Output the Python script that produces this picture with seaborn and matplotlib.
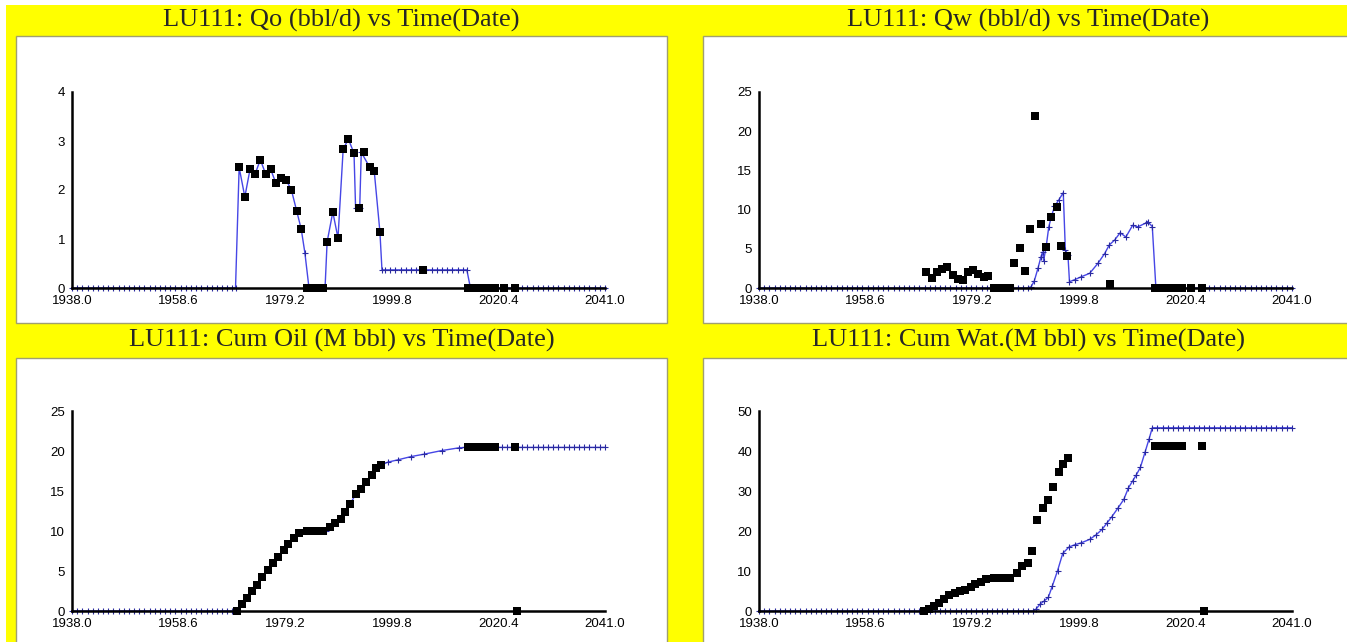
import matplotlib
matplotlib.use("Agg")
import matplotlib.pyplot as plt
from matplotlib.patches import Rectangle
import seaborn as sns

# ---- observed data (black squares) ----
# dates shared by the two rate plots
rate_dates = [1970.3, 1971.4, 1972.4, 1973.4, 1974.4, 1975.4, 1976.4, 1977.4,
              1978.4, 1979.4, 1980.4, 1981.4, 1982.3]
rate_dates_2 = [1987.3, 1988.4, 1989.4, 1990.4, 1991.4, 1992.5, 1993.4,
                1994.4, 1995.5, 1996.4, 1997.5, 2005.9]
# dates for the cumulative plots
cum_dates = [1969.8, 1970.8, 1971.8, 1972.8, 1973.8, 1974.8, 1975.8, 1976.8,
             1977.8, 1978.9, 1979.8, 1980.9, 1981.9]
cum_dates_2 = [1987.9, 1988.8, 1989.9, 1990.8, 1991.8, 1992.8, 1993.8,
               1994.8, 1995.9, 1996.8, 1997.8]
# shut-in periods (many readings close together -> black bars)
shut_in_a = [1983.4, 1983.8, 1984.2, 1984.6, 1985.0, 1985.4, 1985.8, 1986.2, 1986.6]
shut_in_b = [2014.6, 2015.0, 2015.4, 2015.8, 2016.2, 2016.6, 2017.0, 2017.4,
             2017.8, 2018.2, 2018.6, 2019.0, 2019.4, 2019.8]
late_dates = [2021.4, 2023.6]

qo_obs_1 = [2.46, 1.86, 2.42, 2.33, 2.62, 2.33, 2.42, 2.14, 2.25, 2.20, 2.00, 1.58, 1.20]
qo_obs_2 = [0.94, 1.55, 1.02, 2.83, 3.04, 2.75, 1.64, 2.77, 2.47, 2.39, 1.15, 0.37]

qw_obs_1 = [2.00, 1.27, 2.03, 2.42, 2.63, 1.61, 1.19, 1.06, 2.03, 2.25, 1.78, 1.36, 1.57]
qw_obs_2 = [3.18, 5.08, 2.12, 7.54, 21.95, 8.22, 5.21, 9.11, 10.38, 5.42, 4.07, 0.55]

coil_obs_1 = [0.0, 0.93, 1.60, 2.45, 3.29, 4.22, 5.07, 6.00, 6.76, 7.60, 8.36, 9.08, 9.71]
coil_obs_2 = [10.56, 11.06, 11.49, 12.33, 13.43, 14.57, 15.20, 16.10, 16.98, 17.86, 18.24]
coil_shut_a = 10.05
coil_shut_b = 20.45

cwat_obs_1 = [0.0, 0.50, 1.27, 2.10, 2.96, 3.97, 4.39, 4.90, 5.32, 6.08, 6.76, 7.35, 8.02]
cwat_obs_2 = [9.46, 11.23, 12.00, 14.95, 22.80, 25.76, 27.70, 31.08, 34.80, 36.74, 38.26]
cwat_shut_a = 8.28
cwat_shut_b = 41.2

# ---- simulated data (blue line with + markers) ----
qo_sim_t = [1969.6, 1970.3, 1971.4, 1972.4, 1973.4, 1974.4, 1975.4, 1976.4, 1977.4,
            1978.4, 1979.4, 1980.4, 1981.4, 1982.3, 1983.0, 1983.8, 1984.5, 1985.2,
            1986.0, 1986.9, 1987.3, 1988.4, 1989.4, 1990.4, 1991.4, 1992.5, 1992.8,
            1993.6, 1993.9, 1995.5, 1996.4, 1997.5, 1997.9, 1998.5, 1999.5, 2000.5,
            2001.5, 2002.5, 2003.5, 2004.5, 2005.5, 2006.5, 2007.5, 2008.5, 2009.5,
            2010.5, 2011.5, 2012.5, 2013.5, 2014.3, 2015.0]
qo_sim_v = [0.0, 2.46, 1.86, 2.42, 2.33, 2.62, 2.33, 2.42, 2.14,
            2.25, 2.20, 2.00, 1.58, 1.20, 0.72, 0.0, 0.0, 0.0,
            0.0, 0.0, 0.94, 1.55, 1.02, 2.83, 3.04, 2.75, 1.64,
            1.64, 2.77, 2.47, 2.39, 1.15, 0.37, 0.37, 0.37, 0.37,
            0.37, 0.37, 0.37, 0.37, 0.37, 0.37, 0.37, 0.37, 0.37,
            0.37, 0.37, 0.37, 0.37, 0.37, 0.0]

qw_sim_t = [1990.6, 1991.2, 1991.9, 1992.5, 1992.8, 1993.0, 1993.5, 1994.0, 1994.5,
            1995.1, 1995.9, 1996.8, 1997.2, 1997.7, 1998.0, 1999.0, 2000.3, 2001.9,
            2003.5, 2004.8, 2005.7, 2006.7, 2007.8, 2008.9, 2010.2, 2011.2, 2012.8,
            2013.1, 2014.0, 2014.7]
qw_sim_v = [0.17, 0.9, 2.5, 4.0, 4.6, 3.5, 5.3, 7.8, 9.1,
            10.4, 11.2, 12.16, 4.85, 4.2, 0.8, 1.06, 1.44, 1.87,
            3.15, 4.4, 5.5, 6.1, 7.05, 6.5, 8.0, 7.8, 8.3,
            8.47, 7.84, 0.0]

coil_sim_t = [1999.0, 2001.0, 2003.5, 2006.0, 2009.5, 2012.8, 2014.0]
coil_sim_v = [18.6, 18.9, 19.3, 19.6, 20.06, 20.4, 20.45]

cwat_sim_t = [1990.9, 1991.5, 1992.3, 1993.1, 1993.9, 1994.7, 1995.7, 1996.7, 1997.9,
              1999.1, 2000.3, 2001.9, 2003.1, 2004.3, 2005.3, 2006.2, 2007.4, 2008.5,
              2009.4, 2010.2, 2010.9, 2011.7, 2012.6, 2013.4, 2014.0]
cwat_sim_v = [0.0, 0.42, 1.7, 2.5, 3.4, 6.3, 10.1, 14.4, 16.0,
              16.6, 17.06, 17.9, 19.0, 20.4, 22.1, 23.6, 25.8, 27.9,
              30.8, 32.5, 34.0, 35.9, 39.7, 43.1, 45.8]

x_ticks = [1938.0, 1958.6, 1979.2, 1999.8, 2020.4, 2041.0]
titles = ["LU111: Qo (bbl/d) vs Time(Date)", "LU111: Qw (bbl/d) vs Time(Date)",
          "LU111: Cum Oil (M bbl) vs Time(Date)", "LU111: Cum Wat.(M bbl) vs Time(Date)"]

# yearly grids for the flat parts of the simulated curves
years_a = list(range(1938, 1970))
years_b = list(range(1938, 1991))
years_tail = list(range(2016, 2042))
years_tail_c = list(range(2015, 2042))

# assemble series
qo_obs_t = rate_dates + shut_in_a + rate_dates_2 + shut_in_b + late_dates
qo_obs_v = qo_obs_1 + [0.0] * len(shut_in_a) + qo_obs_2 + [0.0] * len(shut_in_b) + [0.0, 0.0]
qw_obs_t = qo_obs_t
qw_obs_v = qw_obs_1 + [0.0] * len(shut_in_a) + qw_obs_2 + [0.0] * len(shut_in_b) + [0.0, 0.0]

qo_t = years_a + qo_sim_t + years_tail
qo_v = [0.0] * len(years_a) + qo_sim_v + [0.0] * len(years_tail)
qw_t = years_b + qw_sim_t + years_tail
qw_v = [0.0] * len(years_b) + qw_sim_v + [0.0] * len(years_tail)

cum_obs_t = cum_dates + shut_in_a + cum_dates_2 + shut_in_b + [2023.6, 2024.0]
coil_obs_v = (coil_obs_1 + [coil_shut_a] * len(shut_in_a) + coil_obs_2
              + [coil_shut_b] * len(shut_in_b) + [coil_shut_b, 0.0])
cwat_obs_v = (cwat_obs_1 + [cwat_shut_a] * len(shut_in_a) + cwat_obs_2
              + [cwat_shut_b] * len(shut_in_b) + [cwat_shut_b, 0.0])

coil_t = years_a + cum_dates + [1982.9, 1987.1] + cum_dates_2 + coil_sim_t + years_tail_c
coil_v = ([0.0] * len(years_a) + coil_obs_1 + [coil_shut_a, coil_shut_a] + coil_obs_2
          + coil_sim_v + [coil_shut_b] * len(years_tail_c))
cwat_t = years_b + cwat_sim_t + years_tail_c
cwat_v = [0.0] * len(years_b) + cwat_sim_v + [45.8] * len(years_tail_c)

panels = [
    (qo_t, qo_v, qo_obs_t, qo_obs_v, 4, [0, 1, 2, 3, 4]),
    (qw_t, qw_v, qw_obs_t, qw_obs_v, 25, [0, 5, 10, 15, 20, 25]),
    (coil_t, coil_v, cum_obs_t, coil_obs_v, 25, [0, 5, 10, 15, 20, 25]),
    (cwat_t, cwat_v, cum_obs_t, cwat_obs_v, 50, [0, 10, 20, 30, 40, 50]),
]

sns.set_style("white")
plt.rcParams["font.family"] = ["Liberation Sans", "DejaVu Sans"]

W, H = 1347, 642
fig = plt.figure(figsize=(W / 100, H / 100), dpi=100)
fig.patch.set_facecolor("#ffff00")


def fig_rect(left, top, right, bottom):
    return (left / W, 1 - bottom / H, (right - left) / W, (bottom - top) / H)


# white page margins and white chart boxes
for l, t, r, b, ec in [(0, 0, W, 5, "none"), (0, 0, 6, H, "none"),
                       (16, 36, 667, 323, "#a0a070"), (703, 36, 1360, 323, "#a0a070"),
                       (16, 358, 667, 660, "#a0a070"), (703, 358, 1360, 660, "#a0a070")]:
    x, y, w, h = fig_rect(l, t, r, b)
    fig.add_artist(Rectangle((x, y), w, h, transform=fig.transFigure,
                             facecolor="white", edgecolor=ec, lw=1, zorder=0))

axes_px = [(72, 92, 605, 288), (759, 92, 1292, 288),
           (72, 411, 605, 611), (759, 411, 1292, 611)]
title_px = [(341.5, 20), (1028, 20), (341.5, 340), (1028, 340)]

blue = "#4646e6"
for (sim_t, sim_v, obs_t, obs_v, ymax, yticks), box, tpos, title in zip(panels, axes_px, title_px, titles):
    ax = fig.add_axes(fig_rect(*box))
    ax.set_facecolor("none")
    sns.lineplot(x=sim_t, y=sim_v, ax=ax, color=blue, lw=1, marker="+", markersize=5,
                 markeredgecolor="#2a2aa0", markeredgewidth=0.8, estimator=None,
                 sort=False, clip_on=False, zorder=2)
    sns.scatterplot(x=obs_t, y=obs_v, ax=ax, marker="s", s=30, color="black",
                    edgecolor="black", linewidth=0, clip_on=False, zorder=3)
    ax.set_xlim(1938, 2041)
    ax.set_ylim(0, ymax)
    ax.set_xticks(x_ticks)
    ax.set_xticklabels([f"{v:.1f}" for v in x_ticks])
    ax.set_yticks(yticks)
    ax.set_yticklabels([str(v) for v in yticks])
    for s in ["top", "right"]:
        ax.spines[s].set_visible(False)
    for s in ["left", "bottom"]:
        ax.spines[s].set_linewidth(1.8)
        ax.spines[s].set_color("black")
    ax.tick_params(direction="inout", length=8, width=1.5, labelsize=9.5,
                   colors="black", pad=1)
    ax.set_xlabel("")
    ax.set_ylabel("")
    fig.text(tpos[0] / W, 1 - tpos[1] / H, title, ha="center", va="center",
             fontsize=19, family=["Liberation Serif", "DejaVu Serif"])

fig.savefig("out.png", dpi=100, facecolor=fig.get_facecolor())
